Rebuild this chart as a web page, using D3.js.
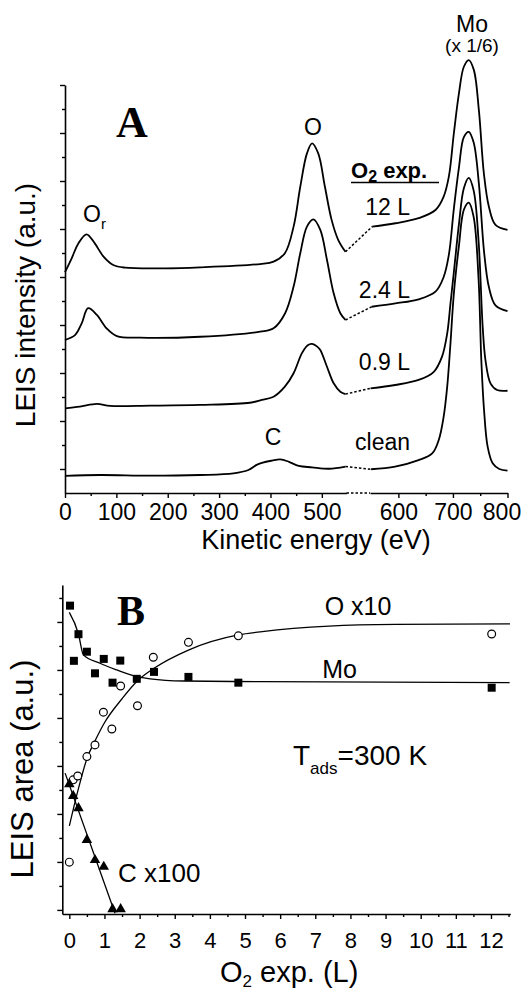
<!DOCTYPE html>
<html>
<head>
<meta charset="utf-8">
<script src="https://cdn.jsdelivr.net/npm/d3@7"></script>
<style>
  html, body { margin: 0; padding: 0; background: #fff; }
  svg { display: block; }
</style>
</head>
<body>
<svg id="chart" width="524" height="992"></svg>
<script>
// ---------------- Panel A data (kinetic energy eV, intensity a.u.) ----------------
const spectraNames = ["clean", "0.9 L", "2.4 L", "12 L"];

const cleanLeft = [[0,0.71],[68,0.75],[166,0.72],[263,0.75],[328,0.82],[357,0.96],[373,1.17],[385,1.27],[403,1.35],[419,1.40],[436,1.30],[455,1.13],[481,1.07],[514,1.01],[546,1.10]];
const cleanRight = [[550,0.99],[594,1.10],[637,1.37],[662,1.65],[674,2.21],[683,3.18],[689.5,4.43],[695.5,6.24],[701.7,8.32],[711,10.3],[720,11.8],[729,12.1],[738,11.5],[747,8.9],[752,5.54],[757,3.46],[763.6,1.93],[772.8,1.24],[785,1.0],[800,0.93]];

const l09Left = [[0,3.53],[29,3.60],[62,3.71],[88,3.63],[166,3.64],[263,3.67],[360,3.76],[383,3.88],[406,4.01],[428,4.43],[445,4.99],[461,5.82],[472,6.15],[481,6.21],[491,6.10],[497,5.96],[510,5.26],[523,4.57],[536,4.22],[546,4.12]];
const l09Right = [[549,4.36],[594,4.50],[637,4.71],[665,5.05],[680,5.68],[689.5,6.65],[695.5,7.9],[701.7,9.2],[711,11.2],[720,12.7],[729,13.13],[738,12.6],[747,10.5],[754.5,6.93],[759.6,5.54],[768.8,4.57],[781,4.29],[800,4.26]];

const l24Left = [[0,6.38],[19.5,6.58],[32.5,7.07],[45,7.70],[62,7.42],[81,6.86],[101,6.54],[146,6.47],[263,6.51],[380,6.72],[406,6.86],[428.5,7.49],[445,8.6],[458,9.99],[471,11.1],[483.6,11.4],[497,10.96],[510,9.71],[523,8.32],[536,7.49],[546,7.21]];
const l24Right = [[551,7.76],[594.5,7.90],[637,8.07],[668,8.39],[683,9.0],[692.5,9.92],[701.7,11.85],[711,13.56],[720,14.83],[729,15.05],[738,14.6],[747.5,12.9],[757,10.06],[766,8.57],[778,7.82],[800,7.58]];

const l12Left = [[0,9.2],[13,9.78],[26,10.40],[42,10.78],[58,10.40],[75,9.85],[94,9.50],[117,9.39],[195,9.36],[263,9.40],[380,9.54],[406,9.64],[428,9.99],[445,11.10],[458,12.76],[471,14.15],[481,14.57],[493,14.15],[506,12.76],[519,11.38],[532,10.54],[546,10.05]];
const l12Right = [[552,11.10],[594.5,11.24],[637,11.45],[668,11.79],[683,12.35],[692.5,13.18],[701.7,14.99],[711,16.65],[720,17.76],[729,18.04],[738.3,17.63],[747.5,15.96],[756.7,13.32],[765.9,11.93],[778,11.17],[800,10.96]];

const spectraLeft = [cleanLeft, l09Left, l24Left, l12Left];
const spectraRight = [cleanRight, l09Right, l24Right, l12Right];

const xTicksALeft = [0, 100, 200, 300, 400, 500];
const xTicksARight = [600, 700, 800];
const xMinorALeft = [50, 150, 250, 350, 450];
const xMinorARight = [650, 750];
const yMajorA = [1, 3, 5, 7, 9, 11, 13, 15, 17];
const yMinorA = [2, 4, 6, 8, 10, 12, 14, 16];

// ---------------- Panel B data (O2 exposure L, LEIS area a.u.) ----------------
const moX = [0.02, 0.13, 0.26, 0.50, 0.73, 0.98, 1.23, 1.45, 1.92, 2.41, 3.39, 4.81, 12.02];
const moY = [12.68, 10.38, 11.49, 10.76, 9.86, 10.46, 9.47, 10.39, 9.63, 9.92, 9.71, 9.47, 9.26];
const oX = [0, 0.11, 0.24, 0.50, 0.73, 0.97, 1.21, 1.46, 1.94, 2.39, 3.39, 4.81, 12.02];
const oY = [1.99, 5.42, 5.58, 6.39, 6.875, 8.24, 7.54, 9.33, 8.51, 10.53, 11.15, 11.42, 11.5];
const cX = [0, 0.11, 0.26, 0.50, 0.73, 0.98, 1.23, 1.46];
const cY = [5.24, 4.75, 4.24, 2.92, 2.08, 1.80, 0.03, 0.03];

const moFit = [[0,12.4],[0.26,11.5],[0.40,10.63],[0.87,10.28],[1.35,10.0],[1.82,9.76],[2.3,9.63],[3.25,9.54],[5.5,9.51],[12.53,9.47]];
const oFit = [[0,3.5],[0.25,5.0],[0.5,6.3],[0.75,7.1],[1.0,7.8],[1.5,8.8],[1.94,9.55],[2.41,10.07],[3.39,10.83],[4.81,11.46],[5.49,11.6],[7.39,11.83],[9.29,11.9],[12.54,11.92]];
const cFit = [[-0.12,5.7],[1.30,-0.14]];

const xTicksB = [0,1,2,3,4,5,6,7,8,9,10,11,12];
const xMinorB = [0.5,1.5,2.5,3.5,4.5,5.5,6.5,7.5,8.5,9.5,10.5,11.5,12.5];
const yMajorB = [0,2,4,6,8,10,12];
const yMinorB = [1,3,5,7,9,11,13];

// ---------------- Drawing ----------------
const FONT = "'Liberation Sans', Arial, Helvetica, sans-serif";
const SERIF = "'Liberation Serif', 'Times New Roman', serif";
const svg = d3.select("#chart");

// Panel A scales (broken x axis)
const xAL = d3.scaleLinear().domain([0, 548]).range([65, 346.5]);
const xAR = d3.scaleLinear().domain([548, 800]).range([370, 507.5]);
const yA = d3.scaleLinear().domain([0, 17]).range([493, 85]);

const gA = svg.append("g");

function styleAxis(g, fs) {
  g.attr("font-family", FONT).attr("font-size", fs);
  g.selectAll("path.domain").attr("stroke", "#000").attr("stroke-width", 1.6);
  g.selectAll(".tick line").attr("stroke", "#000").attr("stroke-width", 1.4);
  g.selectAll(".tick text").attr("fill", "#000");
}
function minorTicks(g) {
  g.select(".domain").remove();
  g.selectAll("line").attr("stroke", "#000").attr("stroke-width", 1.4);
}

// x axis A left
const axAL = gA.append("g").attr("transform", "translate(0,493)")
  .call(d3.axisBottom(xAL).tickValues(xTicksALeft).tickSize(5).tickSizeOuter(0).tickPadding(6));
styleAxis(axAL, 23);
gA.append("g").attr("transform", "translate(0,493)")
  .call(d3.axisBottom(xAL).tickValues(xMinorALeft).tickSize(3).tickSizeOuter(0).tickFormat(""))
  .call(minorTicks);
// x axis A right
const axAR = gA.append("g").attr("transform", "translate(0,493)")
  .call(d3.axisBottom(xAR).tickValues(xTicksARight).tickSize(5).tickSizeOuter(0).tickPadding(6));
styleAxis(axAR, 23);
axAR.selectAll(".tick text").filter(d => d === 800).attr("dx", -6);
gA.append("g").attr("transform", "translate(0,493)")
  .call(d3.axisBottom(xAR).tickValues(xMinorARight).tickSize(3).tickSizeOuter(0).tickFormat(""))
  .call(minorTicks);
// axis break
gA.append("line").attr("x1", xAL(548)).attr("x2", xAR(548)).attr("y1", 493).attr("y2", 493)
  .attr("stroke", "#000").attr("stroke-width", 1.4).attr("stroke-dasharray", "2.5,2");

// y axis A
const ayA = gA.append("g").attr("transform", "translate(65,0)")
  .call(d3.axisLeft(yA).tickValues(yMajorA).tickSize(5).tickSizeOuter(0).tickFormat(""));
styleAxis(ayA, 10);
gA.append("g").attr("transform", "translate(65,0)")
  .call(d3.axisLeft(yA).tickValues(yMinorA).tickSize(3).tickSizeOuter(0).tickFormat(""))
  .call(minorTicks);

// spectra
const lineL = d3.line().x(d => xAL(d[0])).y(d => yA(d[1])).curve(d3.curveCatmullRom.alpha(0.5));
const lineR = d3.line().x(d => xAR(d[0])).y(d => yA(d[1])).curve(d3.curveCatmullRom.alpha(0.5));
spectraNames.forEach((name, i) => {
  const L = spectraLeft[i], R = spectraRight[i];
  gA.append("path").attr("d", lineL(L)).attr("fill", "none").attr("stroke", "#000").attr("stroke-width", 1.8);
  gA.append("path").attr("d", lineR(R)).attr("fill", "none").attr("stroke", "#000").attr("stroke-width", 1.8);
  const a = L[L.length - 1], b = R[0];
  gA.append("line").attr("x1", xAL(a[0])).attr("y1", yA(a[1])).attr("x2", xAR(b[0])).attr("y2", yA(b[1]))
    .attr("stroke", "#000").attr("stroke-width", 1.5).attr("stroke-dasharray", "2.5,2");
});

// Panel A texts
function txt(g, x, y, s, fs, opts = {}) {
  const t = g.append("text").attr("x", x).attr("y", y).attr("font-size", fs)
    .attr("font-family", opts.family || FONT).attr("fill", "#000")
    .attr("text-anchor", opts.anchor || "start");
  if (opts.weight) t.attr("font-weight", opts.weight);
  if (s !== null) t.text(s);
  return t;
}
txt(gA, 132, 137, "A", 44, { family: SERIF, weight: "bold", anchor: "middle" });
const orT = txt(gA, 83, 222, "O", 23);
orT.append("tspan").attr("dy", 7).attr("font-size", 15).text("r");
txt(gA, 313, 135, "O", 23, { anchor: "middle" });
txt(gA, 472, 32, "Mo", 23, { anchor: "middle" });
txt(gA, 472, 52, "(x 1/6)", 19, { anchor: "middle" });
const o2 = txt(gA, 351, 178, "O", 22, { weight: "bold" });
o2.append("tspan").attr("dy", 4).attr("font-size", 16).text("2");
o2.append("tspan").attr("dy", -4).text(" exp.");
gA.append("line").attr("x1", 351).attr("x2", 439).attr("y1", 182.5).attr("y2", 182.5)
  .attr("stroke", "#000").attr("stroke-width", 1.6);
txt(gA, 410, 215, spectraNames[3], 23, { anchor: "end" });
txt(gA, 410, 298, spectraNames[2], 23, { anchor: "end" });
txt(gA, 410, 370, spectraNames[1], 23, { anchor: "end" });
txt(gA, 410, 450, spectraNames[0], 23, { anchor: "end" });
txt(gA, 273, 445, "C", 23, { anchor: "middle" });
txt(gA, 316, 549, "Kinetic energy (eV)", 27, { anchor: "middle" });
txt(gA, 0, 0, "LEIS intensity (a.u.)", 28, { anchor: "middle" })
  .attr("transform", "translate(35,305) rotate(-90)");

// Panel B
const xB = d3.scaleLinear().domain([-0.2, 12.55]).range([62.3, 510.3]);
const yB = d3.scaleLinear().domain([-0.17, 13.54]).range([914, 585]);
const gB = svg.append("g");

const axB = gB.append("g").attr("transform", "translate(0,914)")
  .call(d3.axisBottom(xB).tickValues(xTicksB).tickSize(5).tickSizeOuter(0).tickPadding(13));
styleAxis(axB, 22);
gB.append("g").attr("transform", "translate(0,914)")
  .call(d3.axisBottom(xB).tickValues(xMinorB).tickSize(3).tickSizeOuter(0).tickFormat(""))
  .call(minorTicks);
const ayB = gB.append("g").attr("transform", "translate(62.3,0)")
  .call(d3.axisLeft(yB).tickValues(yMajorB).tickSize(5).tickSizeOuter(0).tickFormat(""));
styleAxis(ayB, 10);
gB.append("g").attr("transform", "translate(62.3,0)")
  .call(d3.axisLeft(yB).tickValues(yMinorB).tickSize(3).tickSizeOuter(0).tickFormat(""))
  .call(minorTicks);

const fitLine = d3.line().x(d => xB(d[0])).y(d => yB(d[1])).curve(d3.curveMonotoneX);
[moFit, oFit, cFit].forEach(f => {
  gB.append("path").attr("d", fitLine(f)).attr("fill", "none").attr("stroke", "#000").attr("stroke-width", 1.3);
});

// markers
gB.selectAll("rect.mo").data(moX.map((x, i) => [x, moY[i]])).enter().append("rect")
  .attr("x", d => xB(d[0]) - 4).attr("y", d => yB(d[1]) - 4).attr("width", 8).attr("height", 8).attr("fill", "#000");
gB.selectAll("circle.o").data(oX.map((x, i) => [x, oY[i]])).enter().append("circle")
  .attr("cx", d => xB(d[0])).attr("cy", d => yB(d[1])).attr("r", 3.9)
  .attr("fill", "#fff").attr("stroke", "#000").attr("stroke-width", 1.2);
const tri = d3.symbol().type(d3.symbolTriangle).size(48);
gB.selectAll("path.c").data(cX.map((x, i) => [x, cY[i]])).enter().append("path")
  .attr("d", tri).attr("transform", d => `translate(${xB(d[0])},${yB(d[1])})`).attr("fill", "#000");

// Panel B texts
txt(gB, 131, 625, "B", 42, { family: SERIF, weight: "bold", anchor: "middle" });
txt(gB, 358, 615, "O x10", 25, { anchor: "middle" });
txt(gB, 339.5, 678, "Mo", 25, { anchor: "middle" });
const tads = txt(gB, 293, 765, "T", 28);
tads.append("tspan").attr("dy", 9).attr("font-size", 17).text("ads");
tads.append("tspan").attr("dy", -9).text("=300 K");
txt(gB, 118, 882, "C x100", 26);
const o2x = txt(gB, 220, 982, "O", 29);
o2x.append("tspan").attr("dy", 5).attr("font-size", 17).text("2");
o2x.append("tspan").attr("dy", -5).text(" exp. (L)");
txt(gB, 0, 0, "LEIS area (a.u.)", 31, { anchor: "middle" })
  .attr("transform", "translate(33,769) rotate(-90)");
</script>
</body>
</html>
